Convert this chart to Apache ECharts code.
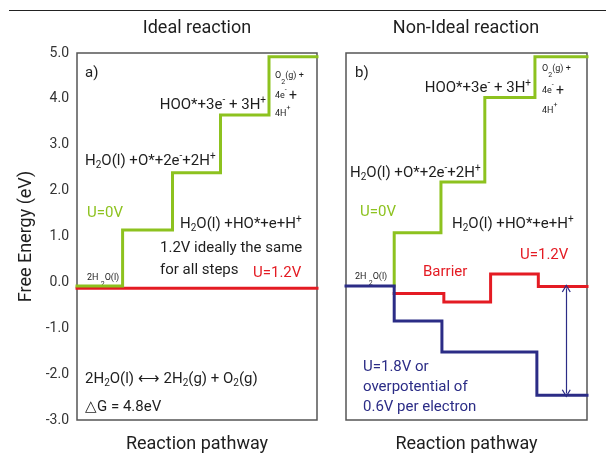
<!DOCTYPE html>
<html>
<head>
<meta charset="utf-8">
<script src="https://cdn.jsdelivr.net/npm/echarts@6/dist/echarts.min.js"></script>
<style>
  html, body { margin: 0; padding: 0; background: #fff; }
  #chart { width: 606px; height: 461px; }
</style>
</head>
<body>
<div id="chart"></div>
<script>
// Free-energy staircase for water oxidation: ideal vs non-ideal catalyst.
// Each path is stored as step boundaries along the pathway plus the energy level on each step.
const yTicks = [-3, -2, -1, 0, 1, 2, 3, 4, 5];

// a) ideal reaction
const idealZeroBreaks = [0, 0.95, 1.99, 2.99, 4.0, 5];
const idealZeroLevels = [-0.08, 1.14, 2.39, 3.65, 4.92];
const idealBiasBreaks = [0, 5];
const idealBiasLevels = [-0.13];

// b) non-ideal reaction
const realZeroBreaks = [1.0, 1.0, 1.97, 2.88, 3.92, 5];
const realZeroLevels = [-0.08, 1.08, 2.19, 4.03, 4.92];
const realBiasBreaks = [1.0, 2.03, 3.0, 3.99, 5];
const realBiasLevels = [-0.24, -0.43, 0.18, -0.09];
const realOverBreaks = [0, 1.0, 1.99, 3.96, 5];
const realOverLevels = [-0.08, -0.84, -1.52, -2.46];

// overpotential arrow: pathway position, upper and lower energies
const arrowX = 4.57;
const arrowTop = -0.13;
const arrowBottom = -2.42;

const GREEN = '#8dc21f';
const RED = '#e41b23';
const NAVY = '#2b2c86';
const INK = '#1e1e1e';
const FONT = 'Roboto, "Noto Sans", sans-serif';

function staircase(breaks, levels) {
  const pts = levels.map((v, i) => [breaks[i], v]);
  pts.push([breaks[breaks.length - 1], levels[levels.length - 1]]);
  return pts;
}

function stepSeries(idx, breaks, levels, color, extra) {
  return Object.assign({
    type: 'line',
    xAxisIndex: idx,
    yAxisIndex: idx,
    step: 'end',
    data: staircase(breaks, levels),
    showSymbol: false,
    symbol: 'none',
    silent: true,
    lineStyle: { color: color, width: 3, cap: 'square', join: 'miter' },
    itemStyle: { color: color }
  }, extra || {});
}

const rich = {
  sub: { fontSize: 10, lineHeight: 12, verticalAlign: 'bottom', fontFamily: FONT },
  sup: { fontSize: 10, lineHeight: 12, verticalAlign: 'top', fontFamily: FONT },
  ssub: { fontSize: 7, lineHeight: 9, verticalAlign: 'bottom', fontFamily: FONT },
  ssup: { fontSize: 7, lineHeight: 9, verticalAlign: 'top', fontFamily: FONT },
  big: { fontSize: 14, lineHeight: 15, fontFamily: FONT }
};

function txt(text, x, y, opts) {
  opts = opts || {};
  return {
    type: 'text',
    silent: true,
    x: x, y: y,
    style: {
      text: text,
      fill: opts.color || INK,
      font: (opts.size || 15) + 'px ' + FONT,
      textAlign: opts.align || 'left',
      textVerticalAlign: 'middle',
      lineHeight: opts.lh || 19,
      rich: rich
    }
  };
}

const chart = echarts.init(document.getElementById('chart'), null, { renderer: 'canvas' });

const xAxisBase = {
  type: 'value', min: 0, max: 5,
  axisLine: { show: false }, axisTick: { show: false },
  axisLabel: { show: false }, splitLine: { show: false },
  name: 'Reaction pathway', nameLocation: 'middle', nameGap: 15,
  nameTextStyle: { fontSize: 18, color: INK, fontFamily: FONT }
};
const yAxisBase = {
  type: 'value', min: -3, max: 5, interval: 1,
  axisLine: { show: false }, axisTick: { show: false }, splitLine: { show: false }
};

const gridFrame = { show: true, borderColor: '#555', borderWidth: 1.5, backgroundColor: 'transparent' };

chart.setOption({
  animation: false,
  backgroundColor: '#fff',
  grid: [
    Object.assign({ left: 77, right: 289, top: 53, bottom: 41 }, gridFrame),
    Object.assign({ left: 346, right: 19, top: 53, bottom: 41 }, gridFrame)
  ],
  xAxis: [
    Object.assign({ gridIndex: 0 }, xAxisBase),
    Object.assign({ gridIndex: 1 }, xAxisBase)
  ],
  yAxis: [
    Object.assign({ gridIndex: 0 }, yAxisBase, {
      axisLabel: {
        show: true, margin: 8, color: '#333', fontSize: 14, fontFamily: FONT,
        customValues: yTicks,
        formatter: v => v.toFixed(1)
      },
      name: 'Free Energy (eV)', nameLocation: 'middle', nameGap: 42, nameRotate: 90,
      nameTextStyle: { fontSize: 18, color: INK, fontFamily: FONT }
    }),
    Object.assign({ gridIndex: 1 }, yAxisBase, { axisLabel: { show: false } })
  ],
  series: [
    stepSeries(0, idealZeroBreaks, idealZeroLevels, GREEN, { z: 3 }),
    stepSeries(0, idealBiasBreaks, idealBiasLevels, RED, { z: 2 }),
    stepSeries(1, realZeroBreaks, realZeroLevels, GREEN, { z: 2 }),
    stepSeries(1, realBiasBreaks, realBiasLevels, RED, { z: 3 }),
    stepSeries(1, realOverBreaks, realOverLevels, NAVY, {
      z: 4,
      markLine: {
        silent: true,
        animation: false,
        symbol: ['path://M0,9 L5,0 L10,9 L8.8,9.6 L5,2.6 L1.2,9.6 Z', 'path://M0,9 L5,0 L10,9 L8.8,9.6 L5,2.6 L1.2,9.6 Z'],
        symbolSize: [9, 8],
        label: { show: false },
        lineStyle: { color: NAVY, width: 1.2, type: 'solid' },
        emphasis: { disabled: true },
        data: [[{ coord: [arrowX, arrowTop] }, { coord: [arrowX, arrowBottom] }]]
      }
    })
  ],
  graphic: [
    { type: 'line', silent: true, shape: { x1: 9, y1: 10.5, x2: 606, y2: 10.5 }, style: { stroke: '#222', lineWidth: 1.2 } },
    txt('Ideal reaction', 197, 28, { size: 18, align: 'center' }),
    txt('Non-Ideal reaction', 466, 28, { size: 18, align: 'center' }),

    // panel a)
    txt('a)', 85, 73),
    txt('HOO*+3e{sup|-} + 3H{sup|+}', 266, 105, { align: 'right' }),
    txt('O{ssub|2}(g) +', 275, 76, { size: 9 }),
    txt('4e{ssup|-} {big|+}', 275, 96, { size: 9 }),
    txt('4H{ssup|+}', 275, 114, { size: 9 }),
    txt('H{sub|2}O(l) +O*+2e{sup|-}+2H{sup|+}', 85, 161),
    txt('U=0V', 87, 213, { color: GREEN }),
    txt('H{sub|2}O(l) +HO*+e+H{sup|+}', 180, 224),
    txt('1.2V ideally the same', 160, 248),
    txt('for all steps', 160, 270),
    txt('U=1.2V', 253, 273, { color: RED }),
    txt('2H {ssub|2}O(l)', 87, 278, { size: 9 }),
    txt('2H{sub|2}O(l) \u27F7 2H{sub|2}(g) + O{sub|2}(g)', 85, 379),
    txt('\u25B3G = 4.8eV', 85, 407),

    // panel b)
    txt('b)', 355, 73),
    txt('HOO*+3e{sup|-} + 3H{sup|+}', 531, 88, { align: 'right' }),
    txt('O{ssub|2}(g) +', 542, 69, { size: 9 }),
    txt('4e{ssup|-} {big|+}', 542, 91, { size: 9 }),
    txt('4H{ssup|+}', 542, 111, { size: 9 }),
    txt('H{sub|2}O(l) +O*+2e{sup|-}+2H{sup|+}', 350, 173),
    txt('U=0V', 360, 212, { color: GREEN }),
    txt('H{sub|2}O(l) +HO*+e+H{sup|+}', 452, 224),
    txt('U=1.2V', 520, 255, { color: RED }),
    txt('Barrier', 423, 272, { color: RED }),
    txt('2H {ssub|2}O(l)', 355, 277, { size: 9 }),
    txt('U=1.8V or', 363, 367, { color: NAVY }),
    txt('overpotential of', 363, 387, { color: NAVY }),
    txt('0.6V per electron', 363, 407, { color: NAVY })
  ]
});
</script>
</body>
</html>
